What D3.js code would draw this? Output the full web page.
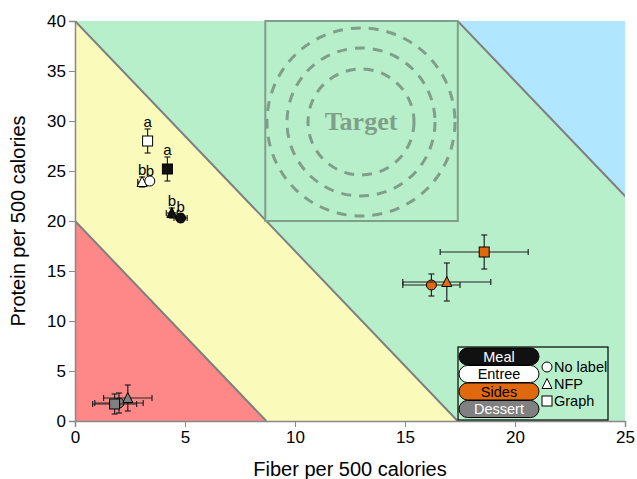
<!DOCTYPE html>
<html>
<head>
<meta charset="utf-8">
<script src="https://cdn.jsdelivr.net/npm/d3@7"></script>
<style>
  body { margin: 0; background: #fff; }
  text { font-family: "Liberation Sans", Arial, sans-serif; }
</style>
</head>
<body>
<div id="chart"></div>
<script>
// groups and shapes
const groups = ["Meal", "Entree", "Sides", "Dessert"];
const groupColors = ["#111111", "#ffffff", "#e0690f", "#808080"];
const groupText = ["#ffffff", "#000000", "#000000", "#ffffff"];
const shapes = ["circle", "triangle", "square"];
const shapeLabels = ["No label", "NFP", "Graph"];

// points: group, shape, fiber, protein, fiber error, protein error, letter
const pointGroup = ["Dessert", "Dessert", "Dessert", "Sides", "Sides", "Sides", "Entree", "Entree", "Entree", "Meal", "Meal", "Meal"];
const pointShape = ["circle", "square", "triangle", "circle", "triangle", "square", "triangle", "circle", "square", "triangle", "circle", "square"];
const fiber = [2.0, 1.8, 2.4, 16.2, 16.9, 18.6, 3.05, 3.4, 3.3, 4.4, 4.8, 4.2];
const protein = [1.8, 1.7, 2.3, 13.6, 13.9, 16.9, 23.9, 24.0, 28.0, 20.8, 20.3, 25.2];
const fiberErr = [1.1, 1.0, 1.1, 1.3, 2.0, 2.0, 0.2, 0.15, 0.15, 0.25, 0.3, 0.1];
const proteinErr = [1.0, 1.0, 1.3, 1.1, 1.9, 1.7, 0.5, 0.3, 1.2, 0.5, 0.4, 1.2];
const letters = ["", "", "", "", "", "", "b", "b", "a", "b", "b", "a"];

// zone boundaries: protein + k * fiber = c
const slope = 2.3;
const zoneLevels = [20, 40, 80];
const zoneColors = ["#fe8888", "#fafabb", "#b8efcb", "#b0e6fe"];

const xTicks = [0, 5, 10, 15, 20, 25];
const yTicks = [0, 5, 10, 15, 20, 25, 30, 35, 40];

const W = 637, H = 479;
const margin = {top: 21, right: 12, bottom: 58, left: 75};
const width = W - margin.left - margin.right;
const height = H - margin.top - margin.bottom;

const svg = d3.select("#chart").append("svg")
  .attr("width", W).attr("height", H);
const g = svg.append("g")
  .attr("transform", "translate(" + margin.left + "," + margin.top + ")");

const x = d3.scaleLinear().domain([0, 25]).range([0, width]);
const y = d3.scaleLinear().domain([0, 40]).range([height, 0]);

g.append("clipPath").attr("id", "plotclip")
  .append("rect").attr("width", width).attr("height", height);
const zones = g.append("g").attr("clip-path", "url(#plotclip)");

// background zones, from the top down
zones.append("rect").attr("width", width).attr("height", height).attr("fill", zoneColors[3]);
for (let i = zoneLevels.length - 1; i >= 0; i--) {
  const c = zoneLevels[i];
  const poly = [[0, 0], [0, c], [c / slope, 0]];
  zones.append("polygon")
    .attr("points", poly.map(p => x(p[0]) + "," + y(p[1])).join(" "))
    .attr("fill", zoneColors[i]);
}
zoneLevels.forEach(c => {
  zones.append("line")
    .attr("x1", x(0)).attr("y1", y(c))
    .attr("x2", x(c / slope)).attr("y2", y(0))
    .attr("stroke", "#7f7f7f").attr("stroke-width", 2);
});

// target box
const tgt = {x0: 8.65, x1: 17.4, y0: 20, y1: 40, cx: 13, cy: 30};
g.append("rect")
  .attr("x", x(tgt.x0)).attr("y", y(tgt.y1))
  .attr("width", x(tgt.x1) - x(tgt.x0)).attr("height", y(tgt.y0) - y(tgt.y1))
  .attr("fill", "#b8efcb").attr("stroke", "#7f9f88").attr("stroke-width", 2);
[94, 74, 53].forEach(r => {
  g.append("circle")
    .attr("cx", x(tgt.cx)).attr("cy", y(tgt.cy) + 1).attr("r", r)
    .attr("fill", "none").attr("stroke", "#7f9f88")
    .attr("stroke-width", 3).attr("stroke-dasharray", "10,8");
});
g.append("text")
  .attr("x", x(tgt.cx)).attr("y", y(tgt.cy) + 9)
  .attr("text-anchor", "middle")
  .style("font-family", "'Liberation Serif', serif")
  .style("font-size", "26px").style("font-weight", "bold")
  .attr("fill", "#7f9f88")
  .text("Target");

// axes
const xAxis = g.append("g").attr("transform", "translate(0," + height + ")")
  .call(d3.axisBottom(x).tickValues(xTicks).tickSize(6).tickPadding(4));
const yAxis = g.append("g")
  .call(d3.axisLeft(y).tickValues(yTicks).tickSize(6).tickPadding(3));
[xAxis, yAxis].forEach(a => {
  a.select(".domain").attr("stroke", "#888").attr("stroke-width", 1.5);
  a.selectAll(".tick line").attr("stroke", "#888");
  a.selectAll(".tick text").style("font-size", "17px").attr("fill", "#000");
});

svg.append("text")
  .attr("x", margin.left + width / 2).attr("y", H - 3)
  .attr("text-anchor", "middle").style("font-size", "20px")
  .text("Fiber per 500 calories");
svg.append("text")
  .attr("transform", "translate(25," + (margin.top + height / 2) + ") rotate(-90)")
  .attr("text-anchor", "middle").style("font-size", "20px")
  .text("Protein per 500 calories");

// marker drawing
function drawShape(sel, shape, cx, cy, size, fill) {
  if (shape === "circle") {
    sel.append("circle").attr("cx", cx).attr("cy", cy).attr("r", size / 2)
      .attr("fill", fill).attr("stroke", "#000").attr("stroke-width", 1);
  } else if (shape === "square") {
    sel.append("rect").attr("x", cx - size / 2).attr("y", cy - size / 2)
      .attr("width", size).attr("height", size)
      .attr("fill", fill).attr("stroke", "#000").attr("stroke-width", 1);
  } else {
    const h = size * 0.9;
    sel.append("polygon")
      .attr("points", [[cx, cy - h / 2 - 1], [cx - size / 2, cy + h / 2], [cx + size / 2, cy + h / 2]].map(p => p.join(",")).join(" "))
      .attr("fill", fill).attr("stroke", "#000").attr("stroke-width", 1);
  }
}

const pts = g.append("g");
pointGroup.forEach((grp, i) => {
  const fill = groupColors[groups.indexOf(grp)];
  const px = x(fiber[i]), py = y(protein[i]);
  const eb = pts.append("g").attr("stroke", "#222").attr("stroke-width", 1.2);
  const xl = x(fiber[i] - fiberErr[i]), xr = x(fiber[i] + fiberErr[i]);
  const yt = y(protein[i] + proteinErr[i]), yb = y(protein[i] - proteinErr[i]);
  eb.append("line").attr("x1", xl).attr("x2", xr).attr("y1", py).attr("y2", py);
  eb.append("line").attr("x1", xl).attr("x2", xl).attr("y1", py - 3).attr("y2", py + 3);
  eb.append("line").attr("x1", xr).attr("x2", xr).attr("y1", py - 3).attr("y2", py + 3);
  eb.append("line").attr("x1", px).attr("x2", px).attr("y1", yt).attr("y2", yb);
  eb.append("line").attr("x1", px - 3).attr("x2", px + 3).attr("y1", yt).attr("y2", yt);
  eb.append("line").attr("x1", px - 3).attr("x2", px + 3).attr("y1", yb).attr("y2", yb);
  drawShape(pts, pointShape[i], px, py, 10, fill);
});
// letters on top of everything
pointGroup.forEach((grp, i) => {
  if (!letters[i]) return;
  pts.append("text").attr("x", x(fiber[i])).attr("y", y(protein[i] + proteinErr[i]) - 2)
    .attr("text-anchor", "middle").style("font-size", "15px")
    .text(letters[i]);
});

// legend
const lg = svg.append("g").attr("transform", "translate(458,347)");
lg.append("rect").attr("width", 150).attr("height", 73)
  .attr("fill", "none").attr("stroke", "#000").attr("stroke-width", 1.2);
groups.forEach((grp, i) => {
  const yy = 1 + i * 17.5;
  lg.append("rect").attr("x", 1).attr("y", yy).attr("width", 80).attr("height", 17)
    .attr("rx", 8.5).attr("ry", 8.5)
    .attr("fill", groupColors[i]).attr("stroke", "#000").attr("stroke-width", 1);
  lg.append("text").attr("x", 41).attr("y", yy + 13.5)
    .attr("text-anchor", "middle").style("font-size", "14.5px")
    .attr("fill", groupText[i]).text(grp);
});
shapes.forEach((s, i) => {
  const yy = 20 + i * 17;
  drawShape(lg, s, 89, yy, 10, "#fff");
  lg.append("text").attr("x", 96).attr("y", yy + 5)
    .style("font-size", "14.5px").text(shapeLabels[i]);
});
</script>
</body>
</html>
